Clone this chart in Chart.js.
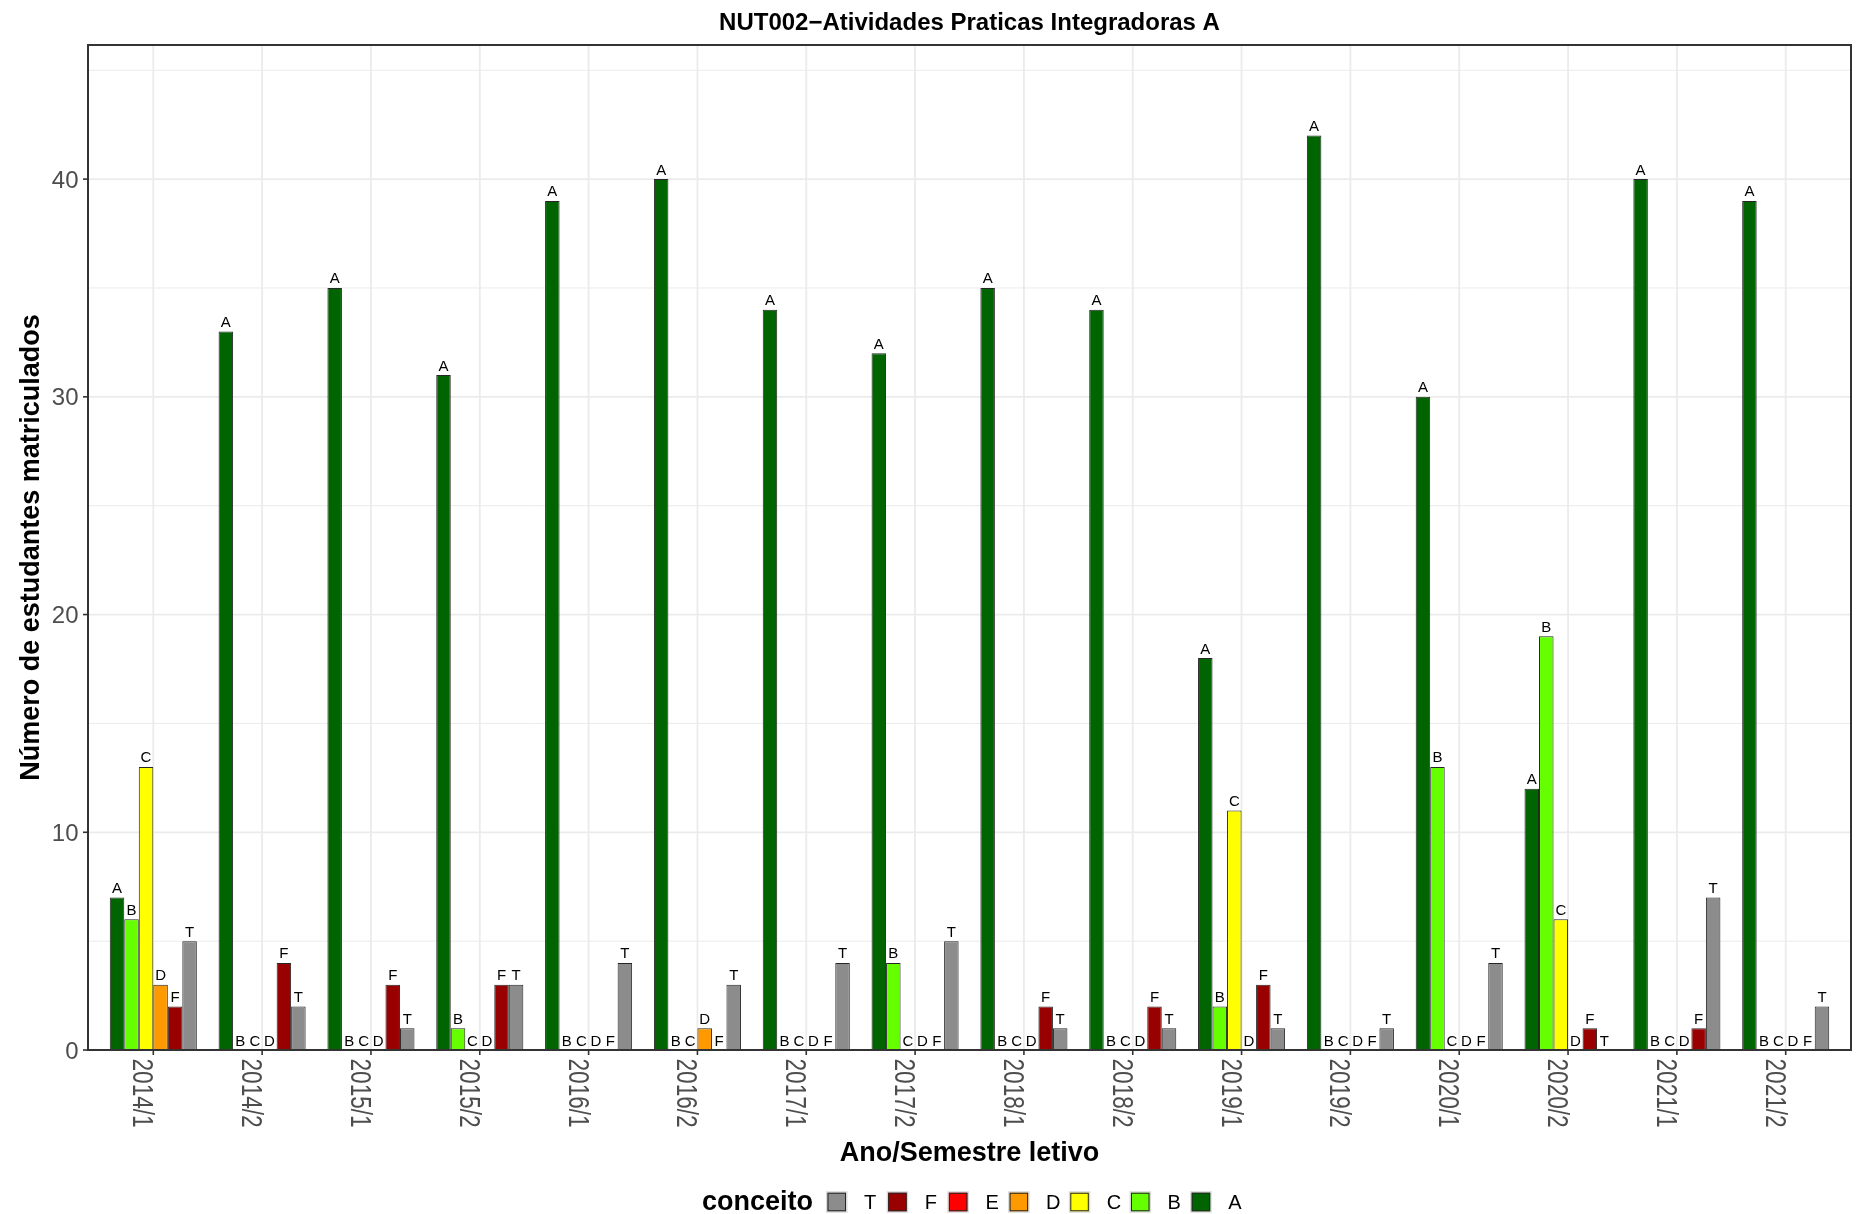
<!DOCTYPE html>
<html><head><meta charset="utf-8">
<script src="https://cdn.jsdelivr.net/npm/chart.js@4.4.1/dist/chart.umd.min.js"></script>
<style>html,body{margin:0;padding:0;background:#fff;}#wrap{width:1860px;height:1214px;position:relative;}</style>
</head><body><div id="wrap"><canvas id="c"></canvas></div>
<script>
// ---- data ----
const semesters = ['2014/1','2014/2','2015/1','2015/2','2016/1','2016/2','2017/1','2017/2','2018/1','2018/2','2019/1','2019/2','2020/1','2020/2','2021/1','2021/2'];
const conceitoA = [7,33,35,31,39,40,34,32,35,34,18,42,30,12,40,39];
const conceitoB = [6,0,0,1,0,0,0,4,0,0,2,0,13,19,0,0];
const conceitoC = [13,0,0,0,0,0,0,0,0,0,11,0,0,6,0,0];
const conceitoD = [3,0,0,0,0,1,0,0,0,0,0,0,0,0,0,0];
const conceitoF = [2,4,3,3,0,0,0,0,2,2,3,0,0,1,1,0];
const conceitoT = [5,2,1,3,4,3,4,5,1,1,1,1,4,0,7,2];
const seriesNames = ['A','B','C','D','F','T'];
const seriesValues = [conceitoA, conceitoB, conceitoC, conceitoD, conceitoF, conceitoT];
const legendOrder = ['T','F','E','D','C','B','A'];
const yMajorTicks = [0,10,20,30,40];
const yMinorTicks = [5,15,25,35,45];
const yMax = 46.16;
const titleText = 'NUT002\u2212Atividades Praticas Integradoras A';
const xTitleText = 'Ano/Semestre letivo';
const yTitleText = 'Número de estudantes matriculados';
const legendTitleText = 'conceito';

// ---- styles / layout ----
const colors = {A:'#006400',B:'#66FF00',C:'#FFFF00',D:'#FF9900',E:'#FF0000',F:'#990000',T:'#8C8C8C'};
const FONT = "'Liberation Sans', Arial, Helvetica, sans-serif";
const PANEL = {left:88, right:1851, top:45, bottom:1050};
const EXPAND = 0.6;
const nCat = semesters.length;
const slotW = (PANEL.right - PANEL.left) / (nCat - 1 + 2*EXPAND);
const inset = (EXPAND - 0.5) * slotW;

const ggPlugin = {
  id: 'gg',
  beforeDatasetsDraw(chart) {
    const ctx = chart.ctx, xs = chart.scales.x, ys = chart.scales.y;
    ctx.save();
    ctx.strokeStyle = '#EBEBEB';
    ctx.lineWidth = 1;
    yMinorTicks.forEach(v => {
      const py = ys.getPixelForValue(v);
      if (py < PANEL.top) return;
      ctx.beginPath(); ctx.moveTo(PANEL.left, py); ctx.lineTo(PANEL.right, py); ctx.stroke();
    });
    ctx.lineWidth = 1.8;
    yMajorTicks.forEach(v => {
      const py = ys.getPixelForValue(v);
      ctx.beginPath(); ctx.moveTo(PANEL.left, py); ctx.lineTo(PANEL.right, py); ctx.stroke();
    });
    semesters.forEach((s, i) => {
      const px = xs.getPixelForValue(i);
      ctx.beginPath(); ctx.moveTo(px, PANEL.top); ctx.lineTo(px, PANEL.bottom); ctx.stroke();
    });
    ctx.restore();
  },
  afterDatasetsDraw(chart) {
    const ctx = chart.ctx, xs = chart.scales.x, ys = chart.scales.y;
    const ca = chart.chartArea;
    const slot = (ca.right - ca.left) / nCat;
    const barW = slot * 0.8 / seriesNames.length;
    ctx.save();
    // bar labels
    ctx.fillStyle = '#000';
    ctx.font = `15px ${FONT}`;
    ctx.textAlign = 'center';
    ctx.textBaseline = 'alphabetic';
    seriesNames.forEach((name, j) => {
      seriesValues[j].forEach((v, i) => {
        const px = xs.getPixelForValue(i) + (j - (seriesNames.length - 1) / 2) * barW;
        const py = ys.getPixelForValue(v) - 4.5;
        ctx.fillText(name, px, py);
      });
    });
    // panel border
    ctx.strokeStyle = '#333333';
    ctx.lineWidth = 2;
    ctx.strokeRect(PANEL.left, PANEL.top, PANEL.right - PANEL.left, PANEL.bottom - PANEL.top);
    // ticks
    ctx.lineWidth = 1.6;
    yMajorTicks.forEach(v => {
      const py = ys.getPixelForValue(v);
      ctx.beginPath(); ctx.moveTo(PANEL.left - 5, py); ctx.lineTo(PANEL.left, py); ctx.stroke();
    });
    semesters.forEach((s, i) => {
      const px = xs.getPixelForValue(i);
      ctx.beginPath(); ctx.moveTo(px, PANEL.bottom); ctx.lineTo(px, PANEL.bottom + 5); ctx.stroke();
    });
    // y tick labels
    ctx.fillStyle = '#4D4D4D';
    ctx.font = `24px ${FONT}`;
    ctx.textAlign = 'right';
    yMajorTicks.forEach(v => {
      const py = ys.getPixelForValue(v);
      ctx.fillText(String(v), PANEL.left - 9.5, py + 8.6);
    });
    // x tick labels (rotated clockwise)
    ctx.font = `22.6px ${FONT}`;
    ctx.textAlign = 'left';
    semesters.forEach((s, i) => {
      const px = xs.getPixelForValue(i);
      ctx.save();
      ctx.translate(px, PANEL.bottom + 8.5);
      ctx.rotate(Math.PI / 2);
      ctx.scale(1, 1.27);
      ctx.fillText(s, 0, 15.75);
      ctx.restore();
    });
    // title
    ctx.fillStyle = '#000';
    ctx.font = `bold 24px ${FONT}`;
    ctx.textAlign = 'center';
    ctx.fillText(titleText, (PANEL.left + PANEL.right) / 2, 29.5);
    // x axis title
    ctx.font = `bold 27px ${FONT}`;
    ctx.fillText(xTitleText, (PANEL.left + PANEL.right) / 2, 1161);
    // y axis title
    ctx.save();
    ctx.translate(39, (PANEL.top + PANEL.bottom) / 2);
    ctx.rotate(-Math.PI / 2);
    ctx.fillText(yTitleText, 0, 0);
    ctx.restore();
    // legend
    const legY = 1202;
    ctx.textAlign = 'left';
    ctx.font = `bold 27px ${FONT}`;
    ctx.fillText(legendTitleText, 702, legY + 7.5);
    const boxSize = 18.5, step = 60.7, firstBox = 827.5;
    ctx.font = `20px ${FONT}`;
    legendOrder.forEach((k, idx) => {
      const bx = firstBox + idx * step;
      ctx.fillStyle = '#D9D9D9';
      ctx.fillRect(bx - 1.5, legY - boxSize / 2 - 1.5, boxSize + 3, boxSize + 3);
      ctx.fillStyle = colors[k];
      ctx.fillRect(bx, legY - boxSize / 2, boxSize, boxSize);
      ctx.strokeStyle = '#262626';
      ctx.lineWidth = 1;
      ctx.strokeRect(bx + 0.5, legY - boxSize / 2 + 0.5, boxSize - 1, boxSize - 1);
      ctx.fillStyle = '#000';
      ctx.fillText(k, bx + 36.5, legY + 7.3);
    });
    ctx.restore();
  }
};

new Chart(document.getElementById('c'), {
  type: 'bar',
  data: {
    labels: semesters,
    datasets: seriesNames.map((s, j) => ({
      label: s,
      data: seriesValues[j].map(v => v === 0 ? null : v),
      backgroundColor: colors[s],
      borderColor: '#262626',
      borderWidth: 1,
      borderSkipped: false,
      inflateAmount: 0,
      categoryPercentage: 0.8,
      barPercentage: 1.0
    }))
  },
  options: {
    responsive: true,
    maintainAspectRatio: false,
    animation: false,
    devicePixelRatio: 1,
    layout: { padding: { left: PANEL.left + inset, right: 1860 - (PANEL.right - inset), top: PANEL.top, bottom: 1214 - PANEL.bottom } },
    plugins: { legend: { display: false }, title: { display: false }, tooltip: { enabled: false } },
    scales: {
      x: { display: false, offset: true },
      y: { display: false, min: 0, max: yMax }
    }
  },
  plugins: [ggPlugin]
});
</script>
</body></html>
